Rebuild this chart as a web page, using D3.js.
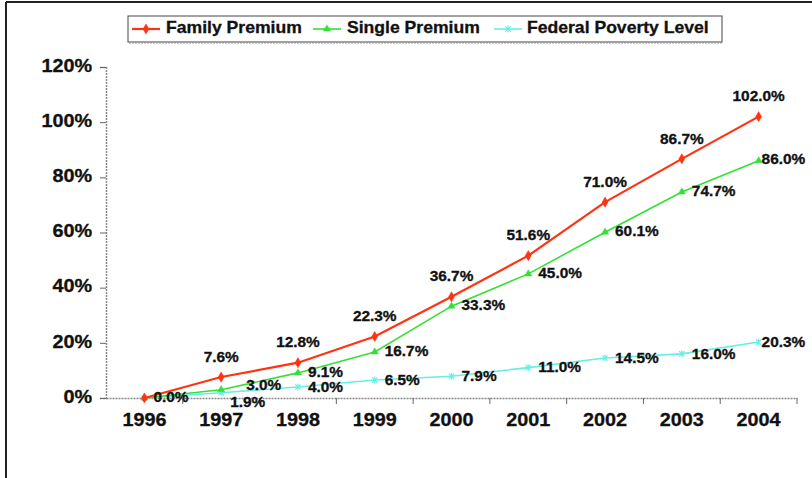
<!DOCTYPE html>
<html><head><meta charset="utf-8">
<script src="https://cdn.jsdelivr.net/npm/d3@7"></script>
<style>html,body{margin:0;padding:0;background:#fff;}svg{display:block;}</style>
</head><body>
<svg id="c" width="812" height="478"></svg>
<script>
const years = ["1996","1997","1998","1999","2000","2001","2002","2003","2004"];
const familyPremium = [0.0, 7.6, 12.8, 22.3, 36.7, 51.6, 71.0, 86.7, 102.0];
const singlePremium = [0.0, 3.0, 9.1, 16.7, 33.3, 45.0, 60.1, 74.7, 86.0];
const povertyLevel = [0.0, 1.9, 4.0, 6.5, 7.9, 11.0, 14.5, 16.0, 20.3];
const yTicks = [0, 20, 40, 60, 80, 100, 120];
const seriesNames = ["Family Premium", "Single Premium", "Federal Poverty Level"];

const svg = d3.select("#c");
const FONT = "'Liberation Sans', Arial, sans-serif";
const SX = 1.1;

function stext(g, x, y, str, size, anchor) {
  return g.append("text")
    .attr("transform", `translate(${x},${y}) scale(${SX},1)`)
    .attr("text-anchor", anchor || "start")
    .attr("dominant-baseline", "middle")
    .attr("font-family", FONT).attr("font-weight", "bold")
    .attr("font-size", size).attr("fill", "#111")
    .attr("stroke", "#111").attr("stroke-width", 0.3).text(str);
}

// frame
svg.append("line").attr("x1", 6).attr("y1", 2).attr("x2", 812).attr("y2", 2).attr("stroke", "#222").attr("stroke-width", 2);
svg.append("line").attr("x1", 6).attr("y1", 2).attr("x2", 6).attr("y2", 478).attr("stroke", "#222").attr("stroke-width", 2);

const x = d3.scaleBand().domain(years).range([106, 797]).padding(0);
const y = d3.scaleLinear().domain([0, 120]).range([398, 67]);
const cx = d => x(d) + x.bandwidth() / 2;

// y axis
const yAxis = d3.axisLeft(y).tickValues(yTicks).tickSize(6).tickFormat(d => d + "%");
const gy = svg.append("g").attr("transform", "translate(106,0)").call(yAxis);
gy.select(".domain").attr("stroke", "#888").attr("stroke-width", 1.5).attr("stroke-dasharray", "2,1");
gy.selectAll(".tick line").attr("stroke", "#666");
gy.selectAll(".tick text").remove();
yTicks.forEach(t => stext(svg, 92, y(t), t + "%", 18, "end"));

// x axis
const xAxis = d3.axisBottom(x).tickSize(0).tickFormat("");
const gx = svg.append("g").attr("transform", "translate(0,398)").call(xAxis);
gx.select(".domain").attr("stroke", "#888").attr("stroke-width", 1.5).attr("stroke-dasharray", "2,1");
years.forEach((yr, i) => {
  const bx = x(yr) + x.bandwidth();
  svg.append("line").attr("x1", bx).attr("x2", bx).attr("y1", 398).attr("y2", 404).attr("stroke", "#666");
  stext(svg, cx(yr), 421, yr, 18, "middle");
});

const colors = ["#ff3311", "#33e033", "#66eee6"];
const widths = [2.2, 1.6, 1.6];
const symbols = [d3.symbolDiamond, d3.symbolTriangle, d3.symbolAsterisk];
const data = [familyPremium, singlePremium, povertyLevel];

function marker(g, s, px, py) {
  if (s === 2) {
    g.append("path").attr("d", d3.symbol(d3.symbolX, 20)())
      .attr("transform", `translate(${px},${py})`).attr("stroke", colors[2]).attr("stroke-width", 1.2).attr("fill", "none");
    g.append("line").attr("x1", px).attr("x2", px).attr("y1", py - 3.5).attr("y2", py + 3.5).attr("stroke", colors[2]).attr("stroke-width", 1.2);
  } else {
    g.append("path").attr("d", d3.symbol(symbols[s], s === 0 ? 30 : 22)())
      .attr("transform", `translate(${px},${py})`).attr("fill", colors[s]).attr("stroke", colors[s]).attr("stroke-width", 0.5);
  }
}

const line = d3.line().x((d, i) => cx(years[i])).y(d => y(d));
[2, 1, 0].forEach(s => {
  const g = svg.append("g");
  g.append("path").datum(data[s]).attr("d", line).attr("fill", "none")
    .attr("stroke", colors[s]).attr("stroke-width", widths[s]);
  data[s].forEach((v, i) => marker(g, s, cx(years[i]), y(v)));
});

// labels
const fmt = v => v.toFixed(1) + "%";
familyPremium.forEach((v, i) => {
  if (i === 0) return;
  stext(svg, cx(years[i]), y(v) - 19, fmt(v), 14, "middle");
});
singlePremium.forEach((v, i) => {
  let dx = 10, dy = 0;
  if (i === 0) dx = 9;
  if (i === 1) { dx = 25; dy = -3; }
  if (i === years.length - 1) dx = 3;
  stext(svg, cx(years[i]) + dx, y(v) + dy, fmt(v), 14, "start");
});
povertyLevel.forEach((v, i) => {
  if (i === 0) return;
  let dx = 10, dy = 1;
  if (i === 1) { dx = 9; dy = 11; }
  if (i === years.length - 1) dx = 3;
  stext(svg, cx(years[i]) + dx, y(v) + dy, fmt(v), 14, "start");
});

// legend
const lg = svg.append("g");
lg.append("rect").attr("x", 128).attr("y", 16).attr("width", 594).attr("height", 26)
  .attr("fill", "#fff").attr("stroke", "#444").attr("stroke-width", 1);
lg.append("line").attr("x1", 129).attr("x2", 723).attr("y1", 43).attr("y2", 43).attr("stroke", "#999").attr("stroke-dasharray", "2,1");
const legX = [132, 313, 494];
const textX = [166, 347, 527];
seriesNames.forEach((n, s) => {
  lg.append("line").attr("x1", legX[s]).attr("x2", legX[s] + 28).attr("y1", 29).attr("y2", 29)
    .attr("stroke", colors[s]).attr("stroke-width", widths[s]);
  marker(lg, s, legX[s] + 14, 29);
  stext(lg, textX[s], 29, n, 16, "start");
});
</script>
</body></html>
